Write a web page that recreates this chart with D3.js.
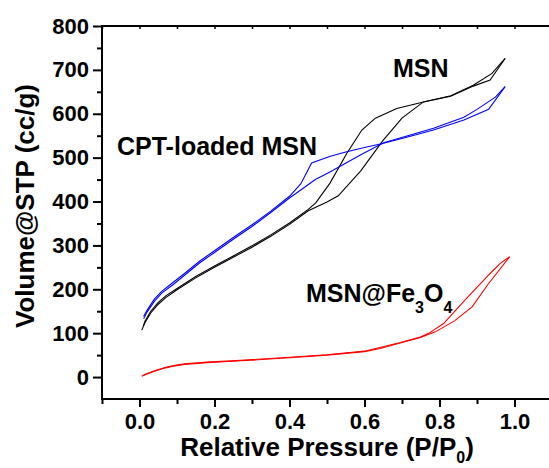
<!DOCTYPE html>
<html>
<head>
<meta charset="utf-8">
<script src="https://cdn.jsdelivr.net/npm/d3@7"></script>
<style>
  body { margin: 0; background: #fff; }
  svg { display: block; }
  text { font-family: "Liberation Sans", Arial, sans-serif; font-weight: bold; fill: #000; }
</style>
</head>
<body>
<div id="canvas"></div>
<script>
// isotherm branches, [P/P0, volume cc/g]
var msnAds = [[0.006,107],[0.015,125],[0.03,146],[0.05,166],[0.07,181],[0.1,199],[0.15,226],[0.2,250],
  [0.25,273],[0.3,296],[0.35,321],[0.4,348],[0.45,379],[0.5,399],[0.53,413],[0.59,470],[0.65,540],
  [0.7,590],[0.757,627],[0.83,640],[0.89,663],[0.935,677],[0.975,726]];
var msnDes = [[0.975,726],[0.94,692],[0.89,665],[0.83,641],[0.757,627],[0.686,612],[0.629,590],
  [0.593,563],[0.553,510],[0.508,442],[0.47,397],[0.45,382],[0.4,351],[0.35,324],[0.3,299],[0.25,276],
  [0.2,253],[0.15,229],[0.1,202],[0.07,185],[0.05,170],[0.03,150],[0.015,128],[0.01,116]];
var cptAds = [[0.011,138],[0.02,152],[0.04,178],[0.06,196],[0.09,216],[0.12,236],[0.16,264],[0.2,288],
  [0.25,318],[0.3,347],[0.35,378],[0.4,412],[0.43,440],[0.459,488],[0.509,503],[0.55,513],[0.6,523],
  [0.651,533],[0.72,548],[0.784,563],[0.865,586],[0.931,610],[0.975,662]];
var cptDes = [[0.975,662],[0.949,638],[0.9,610],[0.865,592],[0.784,567],[0.72,551],[0.651,534],
  [0.589,506],[0.509,468],[0.469,450],[0.4,408],[0.35,375],[0.3,343],[0.25,314],[0.2,284],[0.16,260],
  [0.12,232],[0.09,211],[0.06,192],[0.04,173],[0.02,148],[0.011,133]];
var feAds = [[0.006,2],[0.02,7],[0.046,15],[0.07,21],[0.091,25],[0.12,29],[0.18,33],[0.27,37],[0.4,44],
  [0.5,50],[0.6,58],[0.642,65],[0.693,77],[0.749,90],[0.789,103],[0.84,128],[0.887,160],[0.93,212],
  [0.987,274]];
var feDes = [[0.987,274],[0.962,259],[0.935,236],[0.864,172],[0.811,122],[0.77,99],[0.749,91],
  [0.693,78],[0.6,59],[0.5,51],[0.4,45],[0.27,38],[0.18,34],[0.12,30],[0.091,26],[0.07,22],
  [0.046,16],[0.02,8],[0.008,3]];

var xMajor = [0, 0.2, 0.4, 0.6, 0.8, 1.0];
var xMinor = [-0.1, 0.1, 0.3, 0.5, 0.7, 0.9, 1.1];
var yMajor = [0, 100, 200, 300, 400, 500, 600, 700, 800];
var yMinor = [50, 150, 250, 350, 450, 550, 650, 750];

var W = 549, H = 468;
var m = {t:26, l:102};

var svg = d3.select('#canvas').append('svg')
    .attr('width', W).attr('height', H);

var x = d3.scaleLinear().domain([-0.1, 1.1]).range([m.l, m.l + 450]);
var y = d3.scaleLinear().domain([-50, 800]).range([399, m.t]);

// frame
svg.append('rect')
    .attr('x', x(-0.1)).attr('y', y(800))
    .attr('width', x(1.1) - x(-0.1)).attr('height', y(-50) - y(800))
    .style('fill', 'none').style('stroke', '#000').style('stroke-width', 2);

// bottom ticks
svg.append('g').attr('transform', 'translate(0,' + y(-50) + ')')
    .call(d3.axisBottom(x).tickValues(xMajor).tickSize(8).tickPadding(6).tickFormat(d3.format('.1f')))
    .call(function(g){
        g.select('.domain').remove();
        g.selectAll('line').style('stroke-width', 2);
        g.selectAll('text').style('font-size', '22px').attr('font-family', null).attr('dy', '0.71em');
    });
svg.append('g').attr('transform', 'translate(0,' + y(-50) + ')')
    .call(d3.axisBottom(x).tickValues(xMinor).tickSize(5).tickFormat(''))
    .call(function(g){ g.select('.domain').remove(); g.selectAll('line').style('stroke-width', 2); });

// top ticks (inside, small)
svg.append('g').attr('transform', 'translate(0,' + y(800) + ')')
    .call(d3.axisBottom(x).tickValues(xMajor.concat(xMinor)).tickSize(3).tickFormat(''))
    .call(function(g){ g.select('.domain').remove(); g.selectAll('line').style('stroke-width', 1.5); });

// left ticks
svg.append('g').attr('transform', 'translate(' + x(-0.1) + ',0)')
    .call(d3.axisLeft(y).tickValues(yMajor).tickSize(9).tickPadding(4))
    .call(function(g){
        g.select('.domain').remove();
        g.selectAll('line').style('stroke-width', 2);
        g.selectAll('text').style('font-size', '22px').attr('font-family', null);
    });
svg.append('g').attr('transform', 'translate(' + x(-0.1) + ',0)')
    .call(d3.axisLeft(y).tickValues(yMinor).tickSize(5).tickFormat(''))
    .call(function(g){ g.select('.domain').remove(); g.selectAll('line').style('stroke-width', 2); });

// curves
var line = d3.line().x(function(d){ return x(d[0]); }).y(function(d){ return y(d[1]); });
var series = [
    {d: msnAds, c: '#000'}, {d: msnDes, c: '#000'},
    {d: cptAds, c: '#0000ff'}, {d: cptDes, c: '#0000ff'},
    {d: feAds, c: '#ff0000'}, {d: feDes, c: '#ff0000'}
];
svg.selectAll('.iso').data(series).enter().append('path')
    .attr('class', 'iso')
    .attr('d', function(s){ return line(s.d); })
    .style('fill', 'none')
    .style('stroke', function(s){ return s.c; })
    .style('stroke-width', 1.1);

// labels
svg.append('text').attr('x', 393).attr('y', 76.5).style('font-size', '25px').text('MSN');
svg.append('text').attr('x', 117).attr('y', 155).style('font-size', '25px').text('CPT-loaded MSN');

var fe = svg.append('text').attr('x', 306).attr('y', 302).style('font-size', '25px');
fe.append('tspan').text('MSN@Fe');
fe.append('tspan').attr('dy', 11).style('font-size', '16px').text('3');
fe.append('tspan').attr('dy', -11).text('O');
fe.append('tspan').attr('dy', 11).style('font-size', '16px').text('4');

// axis titles
var xt = svg.append('text').attr('x', 327).attr('y', 456).attr('text-anchor', 'middle').style('font-size', '26px');
xt.append('tspan').text('Relative Pressure (P/P');
xt.append('tspan').attr('dy', 7).style('font-size', '16px').text('0');
xt.append('tspan').attr('dy', -7).text(')');

svg.append('text')
    .attr('transform', 'translate(34,206) rotate(-90)')
    .attr('text-anchor', 'middle')
    .style('font-size', '26px')
    .text('Volume@STP (cc/g)');
</script>
</body>
</html>
